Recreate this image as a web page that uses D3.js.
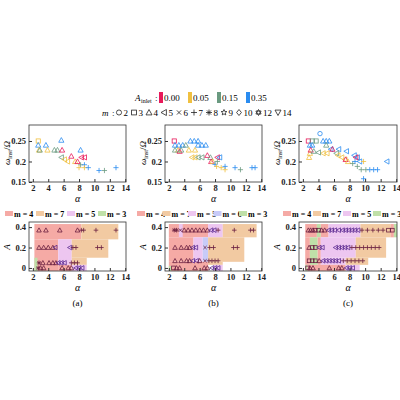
<!DOCTYPE html><html><head><meta charset="utf-8">
<script src="https://cdn.jsdelivr.net/npm/d3@7"></script>
<style>body{margin:0;background:#fff}text{font-family:"Liberation Serif",serif}</style></head><body>
<svg id="c" width="400" height="400"></svg>
<script>
const ampLevels=["0.00","0.05","0.15","0.35"];
const ampColors=["#e8195a","#f0c040","#6a9a80","#2a8cf0"];
const mLegend=[[2,"circle"],[3,"square"],[4,"tri"],[5,"left"],[6,"x"],[7,"plus"],[8,"ast"],[9,"star"],[10,"diamond"],[12,"hex"],[14,"down"]];
const regionColors={3:"#bfe0a8",4:"#f5aaa5",5:"#edc6f0",6:"#c8cbf8",7:"#f2caa2"};
const xTicks=[2,4,6,8,10,12,14], yTicksTop=[0.15,0.2,0.25], yTicksBot=[0,0.2,0.4];
// top scatter: [alpha, omega, ampIndex, m]
const topA=[[2.7,0.25,1,3],[2.7,0.24,3,4],[3.7,0.24,3,4],[2.8,0.228,1,4],[3.9,0.228,1,4],[2.9,0.228,2,4],[4.8,0.228,2,4],[5.2,0.228,2,4],[5.8,0.228,0,4],[5.7,0.252,3,4],[8.2,0.228,3,4],[5.7,0.21,2,5],[6.1,0.205,1,5],[6.5,0.2,1,5],[7,0.213,0,4],[8.3,0.21,0,5],[8.7,0.21,0,5],[7.5,0.2,1,4],[7.8,0.2,0,4],[8.2,0.192,2,7],[8.7,0.192,3,7],[8.0,0.185,1,7],[8.7,0.185,1,7],[9.2,0.185,3,7],[10.6,0.178,3,7],[11.3,0.178,2,7],[12.8,0.185,3,7]];
const topB=[[2.7,0.25,0,3],[2.8,0.24,3,4],[3.3,0.24,3,4],[3.8,0.24,3,4],[4.2,0.24,2,4],[4.8,0.25,3,4],[5.3,0.25,3,4],[5.8,0.25,3,4],[5.8,0.24,3,4],[6.3,0.24,3,4],[6.8,0.24,3,4],[3.2,0.228,1,4],[3.4,0.225,0,4],[3.6,0.228,2,4],[4.6,0.228,1,4],[5.4,0.228,1,4],[2.8,0.228,2,4],[5.0,0.21,1,5],[5.4,0.21,1,5],[5.8,0.21,2,5],[6.3,0.21,2,5],[7.0,0.215,0,4],[7.4,0.21,2,4],[8.3,0.21,0,5],[8.6,0.21,3,5],[7.5,0.2,0,4],[7.7,0.2,1,4],[8.0,0.193,3,7],[8.3,0.2,2,7],[8.2,0.188,1,7],[8.8,0.185,1,7],[9.3,0.18,1,7],[9.3,0.188,3,7],[10.6,0.185,3,7],[11.3,0.18,2,7],[12.8,0.185,3,7],[13.2,0.185,3,7]];
const topC=[[4.2,0.268,3,2],[2.7,0.25,0,3],[3.2,0.25,2,3],[3.7,0.25,2,3],[4.6,0.25,3,4],[5.0,0.25,3,4],[5.4,0.25,3,4],[2.9,0.24,3,4],[3.2,0.24,3,4],[5.0,0.24,2,4],[5.6,0.23,3,5],[6.6,0.23,3,5],[7.6,0.225,3,5],[8.6,0.215,3,5],[9.0,0.21,3,5],[8.8,0.21,0,5],[2.8,0.21,1,4],[2.9,0.22,1,4],[4.6,0.22,1,5],[5.1,0.22,1,5],[4.0,0.222,2,5],[5.8,0.23,0,4],[6.3,0.22,2,5],[6.5,0.215,1,5],[7.0,0.21,1,5],[7.4,0.205,1,5],[7.5,0.205,0,4],[7.8,0.2,1,4],[8.4,0.195,2,7],[8.7,0.2,3,7],[9.3,0.2,3,5],[9.8,0.2,1,7],[9.8,0.158,3,7],[9.0,0.188,2,7],[9.5,0.18,2,7],[10.1,0.18,2,7],[10.6,0.18,3,7],[11.1,0.18,3,7],[11.6,0.18,3,7],[12.8,0.2,3,5],[3.0,0.228,0,4],[3.4,0.225,2,4]];
// bottom regions: [a0,a1,A0,A1,m]
const regA=[[2.2,8.3,0.28,0.43,4],[8.3,13.1,0.28,0.43,7],[2.2,5.3,-0.03,0.28,4],[5.3,7.05,0.03,0.28,5],[5.3,7.05,-0.03,0.03,4],[7.05,11.8,0.1,0.28,7],[7.05,9,0.03,0.1,7],[7.05,9,-0.03,0.03,5],[2.2,2.6,-0.03,0.1,3]];
const regB=[[2.0,7.1,0.3,0.43,4],[3.3,3.8,0.3,0.43,5],[7.1,9.0,0.3,0.43,5],[9.0,13.4,0.3,0.43,7],[2.0,5.2,0.06,0.3,4],[5.2,6.4,0.06,0.3,5],[6.4,7.1,0.06,0.3,6],[7.1,11.8,0.06,0.3,7],[2.0,7.1,-0.03,0.06,4],[7.1,9.0,0.03,0.06,7],[7.8,9.0,-0.03,0.03,5],[2.0,2.3,-0.03,0.02,3]];
const regC=[[2.3,3.8,0.3,0.43,4],[3.8,4.3,0.3,0.43,3],[4.3,5.3,0.3,0.43,4],[5.3,9.4,0.3,0.43,5],[9.4,13.3,0.3,0.43,7],[13.3,13.7,0.3,0.43,4],[13.7,14.1,0.3,0.43,3],[2.3,2.9,0.03,0.3,4],[2.9,3.9,0.03,0.3,3],[3.9,4.3,0.03,0.3,4],[4.3,8.8,0.1,0.3,5],[8.8,12.7,0.1,0.3,7],[4.3,7.5,0.03,0.1,5],[7.5,10.4,0.03,0.1,7],[2.3,2.6,-0.03,0.03,3],[2.6,7.5,-0.03,0.03,4],[7.5,9.3,-0.03,0.03,5]];
// bottom markers: [alpha, A, m]
const botA=[[2.8,0.37,4],[3.7,0.37,4],[5.5,0.37,4],[7.8,0.37,4],[8.3,0.37,7],[8.6,0.37,7],[10.2,0.37,7],[12.8,0.37,7],[2.8,0.2,4],[3.4,0.2,4],[4.0,0.2,4],[4.6,0.2,4],[4.9,0.2,5],[6.8,0.2,5],[7.2,0.2,7],[7.6,0.2,7],[10.4,0.2,7],[10.9,0.2,7],[2.8,0.05,8],[3.3,0.05,4],[4.1,0.05,4],[4.6,0.05,4],[5.0,0.05,4],[5.3,0.05,5],[5.7,0.05,5],[6.1,0.05,5],[7.0,0.05,7],[7.4,0.05,7],[7.8,0.05,7],[2.7,0.0,8],[3.0,0.0,4],[3.4,0.0,4],[5.8,0.0,4],[6.6,0.0,4],[7.0,0.0,4],[7.6,0.0,5],[8.0,0.0,5],[8.4,0.0,5]];
const botB=[[2.7,0.37,8],[3.0,0.37,8],[3.5,0.37,6],[4.0,0.37,4],[4.5,0.37,4],[5.0,0.37,4],[5.5,0.37,4],[6.0,0.37,4],[6.5,0.37,4],[7.0,0.37,4],[7.5,0.37,5],[7.9,0.37,5],[8.4,0.37,7],[10.5,0.37,7],[12.6,0.37,7],[13.0,0.37,7],[2.8,0.2,4],[3.6,0.2,4],[4.3,0.2,4],[4.7,0.2,4],[5.1,0.2,5],[5.5,0.2,5],[6.7,0.2,6],[7.3,0.2,7],[7.8,0.2,7],[10.4,0.2,7],[10.9,0.2,7],[2.8,0.07,4],[3.6,0.07,4],[4.3,0.07,4],[4.7,0.07,4],[5.1,0.07,5],[5.6,0.07,5],[6.0,0.07,4],[6.7,0.07,6],[7.2,0.07,7],[7.6,0.07,7],[8.0,0.07,7],[8.4,0.07,7],[2.6,0.0,3],[3.0,0.0,4],[3.4,0.0,4],[5.4,0.0,4],[6.6,0.0,4],[7.0,0.0,4],[7.6,0.0,5],[8.0,0.0,5],[8.4,0.0,5]];
const botC=[[2.7,0.37,4],[3.0,0.37,4],[3.3,0.37,4],[3.6,0.37,3],[4.0,0.37,3],[4.4,0.37,4],[4.8,0.37,4],[5.3,0.37,5],[5.7,0.37,5],[6.1,0.37,5],[6.6,0.37,5],[7.1,0.37,5],[7.5,0.37,5],[7.9,0.37,5],[8.3,0.37,5],[8.7,0.37,5],[9.1,0.37,5],[9.6,0.37,7],[10.3,0.37,7],[11.0,0.37,7],[11.7,0.37,7],[12.3,0.37,7],[13.0,0.37,3],[13.5,0.37,3],[2.8,0.2,4],[3.2,0.2,3],[3.6,0.2,3],[4.1,0.2,5],[4.5,0.2,5],[6.2,0.2,5],[6.6,0.2,5],[7.0,0.2,5],[7.4,0.2,5],[7.8,0.2,5],[8.3,0.2,7],[8.8,0.2,7],[9.3,0.2,7],[9.8,0.2,7],[10.3,0.2,7],[10.8,0.2,7],[11.3,0.2,7],[11.8,0.2,7],[2.8,0.07,3],[3.2,0.07,3],[3.6,0.07,3],[4.1,0.07,4],[4.6,0.07,5],[5.0,0.07,5],[5.4,0.07,5],[5.8,0.07,5],[6.2,0.07,5],[6.6,0.07,5],[7.2,0.07,7],[7.7,0.07,7],[8.2,0.07,7],[8.7,0.07,7],[9.2,0.07,7],[9.7,0.07,7],[2.6,0.0,3],[2.9,0.0,4],[3.3,0.0,4],[5.4,0.0,4],[6.6,0.0,4],[7.0,0.0,4],[7.6,0.0,5],[8.0,0.0,5],[8.4,0.0,5]];
const panels=[
 {x0:29,x1:126,top:topA,reg:regA,bot:botA,leg:[4,7,5,3],lab:"(a)",lx:5,ls:31},
 {x0:165,x1:262,top:topB,reg:regB,bot:botB,leg:[4,7,5,6,3],lab:"(b)",lx:137,ls:25.5},
 {x0:299,x1:397,top:topC,reg:regC,bot:botC,leg:[4,7,5,3],lab:"(c)",lx:283,ls:30}];
const mShape={2:"circle",3:"square",4:"tri",5:"left",6:"x",7:"plus",8:"ast",9:"star",10:"diamond",12:"hex",14:"down"};
const svg=d3.select("#c");
function mark(g,shape,x,y,r,col){
  const s=g.append("g").attr("transform",`translate(${x},${y})`);
  const st=e=>e.attr("fill","none").attr("stroke",col).attr("stroke-width",0.8);
  const poly=p=>st(s.append("polygon").attr("points",p.map(q=>q.join(",")).join(" ")));
  if(shape==="circle")st(s.append("circle").attr("r",r*0.85));
  else if(shape==="square")st(s.append("rect").attr("x",-r*0.8).attr("y",-r*0.8).attr("width",r*1.6).attr("height",r*1.6));
  else if(shape==="tri")poly([[0,-r],[r,r*0.8],[-r,r*0.8]]);
  else if(shape==="down")poly([[0,r],[r,-r*0.8],[-r,-r*0.8]]);
  else if(shape==="left")poly([[-r,0],[r*0.8,-r],[r*0.8,r]]);
  else if(shape==="diamond")poly([[0,-r],[r*0.8,0],[0,r],[-r*0.8,0]]);
  else if(shape==="plus")st(s.append("path").attr("d",`M${-r},0H${r}M0,${-r}V${r}`));
  else if(shape==="x")st(s.append("path").attr("d",`M${-r*.7},${-r*.7}L${r*.7},${r*.7}M${-r*.7},${r*.7}L${r*.7},${-r*.7}`));
  else if(shape==="ast")st(s.append("path").attr("d",`M${-r},0H${r}M0,${-r}V${r}M${-r*.7},${-r*.7}L${r*.7},${r*.7}M${-r*.7},${r*.7}L${r*.7},${-r*.7}`));
  else if(shape==="star"){const p=[];for(let i=0;i<10;i++){const a=-Math.PI/2+i*Math.PI/5,rr=i%2?r*0.45:r;p.push([rr*Math.cos(a),rr*Math.sin(a)]);}poly(p);}
  else if(shape==="hex"){poly([[0,-r],[r*.87,r*.5],[-r*.87,r*.5]]);poly([[0,r],[r*.87,-r*.5],[-r*.87,-r*.5]]);}
}
// legends
const lg=svg.append("g");
let lx=149;
lg.append("text").attr("x",lx-14).attr("y",101).attr("font-size",9).attr("font-style","italic").text("A");
lg.append("text").attr("x",lx-8).attr("y",103).attr("font-size",6).text("inlet");
lg.append("text").attr("x",lx+6).attr("y",101).attr("font-size",9).text(":");
lx=159;
ampLevels.forEach((t,i)=>{lg.append("rect").attr("x",lx).attr("y",92).attr("width",4).attr("height",11).attr("fill",ampColors[i]);
 lg.append("text").attr("x",lx+5).attr("y",101).attr("font-size",9).text(t);lx+=29;});
lx=102;
lg.append("text").attr("x",lx).attr("y",116).attr("font-size",9).attr("font-style","italic").text("m");
lg.append("text").attr("x",lx+10).attr("y",116).attr("font-size",9).text(":");
lx=119;
mLegend.forEach(([m,sh])=>{mark(lg,sh,lx,112.5,3,"#222");const t=lg.append("text").attr("x",lx+4.5).attr("y",116).attr("font-size",9).text(m);lx+=4.5+t.node().getComputedTextLength()+6;});
panels.forEach(p=>{
 const x=d3.scaleLinear().domain([1.5,14.1]).range([p.x0,p.x1]);
 const yT=d3.scaleLinear().domain([0.15,0.289]).range([182,125]);
 const yB=d3.scaleLinear().domain([-0.03,0.45]).range([271,222]);
 const g=svg.append("g");
 g.append("rect").attr("x",p.x0).attr("y",125).attr("width",p.x1-p.x0).attr("height",57).attr("fill","none").attr("stroke","#333").attr("stroke-width",0.8);
 p.top.forEach(d=>mark(g,mShape[d[3]],x(d[0]),yT(d[1]),2.6,ampColors[d[2]]));
 g.append("g").attr("transform","translate(0,182)").call(d3.axisBottom(x).tickValues(xTicks).tickSize(-3).tickFormat(d3.format("d")));
 g.append("g").attr("transform",`translate(${p.x0},0)`).call(d3.axisLeft(yT).tickValues(yTicksTop).tickSize(-3).tickFormat(d=>d3.format(".2~f")(d)));
 p.reg.forEach(r=>g.append("rect").attr("x",x(r[0])).attr("y",yB(r[3])).attr("width",x(r[1])-x(r[0])).attr("height",yB(r[2])-yB(r[3])).attr("fill",regionColors[r[4]]));
 p.bot.forEach(d=>mark(g,mShape[d[2]],x(d[0]),yB(d[1]),2.3,d[2]===5?"#5a2a90":"#6a2040"));
 g.append("rect").attr("x",p.x0).attr("y",222).attr("width",p.x1-p.x0).attr("height",49).attr("fill","none").attr("stroke","#333").attr("stroke-width",0.8);
 g.append("g").attr("transform","translate(0,271)").call(d3.axisBottom(x).tickValues(xTicks).tickSize(-3).tickFormat(d3.format("d")));
 g.append("g").attr("transform",`translate(${p.x0},0)`).call(d3.axisLeft(yB).tickValues(yTicksBot).tickSize(-3).tickFormat(d=>d3.format(".1~f")(d)));
 g.selectAll(".domain").remove();
 g.selectAll(".tick text").attr("font-family","Liberation Serif").attr("font-size",8.5).attr("font-weight","bold").attr("fill","#222");
 g.selectAll(".tick line").attr("stroke","#333");
 const cx=(p.x0+p.x1)/2;
 g.append("text").attr("x",cx).attr("y",202).attr("text-anchor","middle").attr("font-size",10).attr("font-style","italic").text("α");
 g.append("text").attr("x",cx).attr("y",291).attr("text-anchor","middle").attr("font-size",10).attr("font-style","italic").text("α");
 g.append("text").attr("x",cx).attr("y",306).attr("text-anchor","middle").attr("font-size",9).text(p.lab);
 const yl=g.append("text").attr("transform",`translate(${p.x0-19},153) rotate(-90)`).attr("text-anchor","middle").attr("font-size",9);
 yl.append("tspan").attr("font-style","italic").text("ω");
 yl.append("tspan").attr("font-size",6).attr("dy",2).text("inst");
 yl.append("tspan").attr("dy",-2).text("/");
 yl.append("tspan").attr("font-style","italic").text("Ω");
 g.append("text").attr("transform",`translate(${p.x0-19},247) rotate(-90)`).attr("text-anchor","middle").attr("font-size",9).attr("font-style","italic").text("A");
 let px=p.lx;
 p.leg.forEach(m=>{g.append("rect").attr("x",px).attr("y",211).attr("width",8).attr("height",5).attr("fill",regionColors[m]);
  g.append("text").attr("x",px+9).attr("y",216.5).attr("font-size",8).attr("font-weight","bold").text("m = "+m);px+=p.ls;});
});
</script></body></html>
